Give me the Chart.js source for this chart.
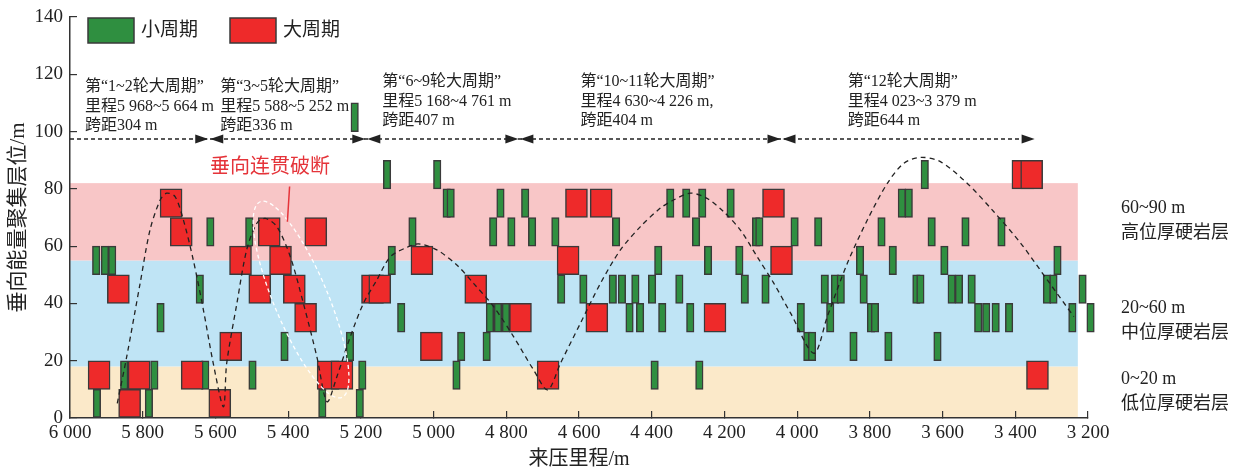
<!DOCTYPE html>
<html>
<head>
<meta charset="utf-8">
<script src="https://cdn.jsdelivr.net/npm/chart.js@4.4.1/dist/chart.umd.min.js"></script>
<style>
  html, body { margin: 0; padding: 0; background: #fff; }
  #wrap { width: 1255px; height: 470px; position: relative; }
</style>
</head>
<body>
<div id="wrap"><canvas id="cycleChart"></canvas></div>
<script>
// 小周期 blocks: mileage (m) and the bottom of the 10 m layer they occupy
const smallMileage = [
  5926, 5783, 5306, 5203,
  5851, 5768, 5628, 5498, 5196, 4937, 4392, 4269,
  5410, 5230, 4924, 4854, 3972, 3959, 3845, 3749, 3614,
  5751, 5089, 4845, 4823, 4801, 4461, 4432, 4371, 4294, 3990, 3909, 3797, 3786, 3502, 3480, 3454, 3417, 3243, 3193,
  5643, 4649, 4588, 4507, 4482, 4445, 4399, 4324, 4144, 4087, 3924, 3896, 3880, 3817, 3672, 3661, 3575, 3555, 3520, 3313, 3295, 3215,
  5928, 5904, 5884, 5115, 4382, 4245, 4159, 3827, 3737, 3595, 3284,
  5614, 5507, 5058, 4836, 4786, 4729, 4665, 4498, 4278, 4113, 4104, 4007, 3942, 3768, 3630, 3537, 3438,
  4964, 4953, 4816, 4748, 4349, 4305, 4261, 4183, 3712, 3693,
  5128, 4990, 3649,
  5217
];
const smallLayer = [
  0, 0, 0, 0,
  10, 10, 10, 10, 10, 10, 10, 10,
  20, 20, 20, 20, 20, 20, 20, 20, 20,
  30, 30, 30, 30, 30, 30, 30, 30, 30, 30, 30, 30, 30, 30, 30, 30, 30, 30, 30,
  40, 40, 40, 40, 40, 40, 40, 40, 40, 40, 40, 40, 40, 40, 40, 40, 40, 40, 40, 40, 40, 40,
  50, 50, 50, 50, 50, 50, 50, 50, 50, 50, 50,
  60, 60, 60, 60, 60, 60, 60, 60, 60, 60, 60, 60, 60, 60, 60, 60, 60,
  70, 70, 70, 70, 70, 70, 70, 70, 70, 70,
  80, 80, 80,
  100
];

// 大周期 blocks
const largeMileage = [
  5836, 5588,
  5920, 5810, 5664, 5290, 5252, 4685, 3339,
  5558, 5006,
  5352, 4761, 4551, 4226,
  5867, 5478, 5383, 5168, 5148, 4884,
  5531, 5421, 5032, 4630, 4043,
  5694, 5452, 5324,
  5722, 4607, 4539, 4065,
  3379, 3355
];
const largeLayer = [
  0, 0,
  10, 10, 10, 10, 10, 10, 10,
  20, 20,
  30, 30, 30, 30,
  40, 40, 40, 40, 40, 40,
  50, 50, 50, 50, 50,
  60, 60, 60,
  70, 70, 70, 70,
  80, 80
];
const blockHeight = 10;

// dashed envelope through the large cycles
const curveMileage = [5870, 5844, 5807, 5780, 5752, 5734, 5711, 5688, 5661, 5633, 5606, 5578,
  5569, 5541, 5514, 5486, 5463, 5431, 5394, 5358, 5321, 5293,
  5266, 5229, 5193, 5156, 5119, 5073, 5041, 4991, 4936, 4890, 4835, 4780, 4725, 4686,
  4651, 4596, 4541, 4486, 4431, 4376, 4340, 4294, 4248, 4202, 4156, 4110, 4064, 4018, 3954,
  3917, 3862, 3807, 3752, 3707, 3661, 3606, 3532, 3459, 3385, 3312, 3239];
const curveLevel = [5.1, 21.4, 47.1, 65.6, 76.1, 78.5, 77.3, 69.1, 55.2, 37.7, 19.1, 3.9,
  19.1, 40.0, 58.7, 68.0, 69.7, 66.8, 56.3, 40.0, 21.4, 5.7,
  14.4, 28.4, 40.0, 48.2, 56.3, 59.6, 60.8, 58.7, 53.4, 47.0, 38.9, 28.4, 16.8, 9.8,
  19.1, 33.1, 47.0, 58.7, 66.8, 73.3, 76.1, 78.5, 76.7, 72.0, 65.6, 56.3, 47.0, 36.6, 22.6,
  35.4, 54.0, 69.1, 81.9, 88.9, 91.0, 89.5, 81.9, 72.0, 61.0, 48.2, 35.4];

// rock layer bands
const bandLow = [0, 18, 55];
const bandHigh = [18, 55, 82];
const bandEndMileage = 3228;
const bandTitle = ['0~20 m', '20~60 m', '60~90 m'];
const bandName = ['低位厚硬岩层', '中位厚硬岩层', '高位厚硬岩层'];
const bandLabelLevel = [13.6, 38.4, 73.3];

// major cycle spans along the top
const cycleBounds = [6000, 5617, 5185, 4764, 4043, 3344];
const cycleArrowLevel = 97.4;
const cycleTitle = ['第“1~2轮大周期”', '第“3~5轮大周期”', '第“6~9轮大周期”', '第“10~11轮大周期”', '第“12轮大周期”'];
const cycleRange = ['里程5 968~5 664 m', '里程5 588~5 252 m', '里程5 168~4 761 m', '里程4 630~4 226 m,', '里程4 023~3 379 m'];
const cycleSpan = ['跨距304 m', '跨距336 m', '跨距407 m', '跨距404 m', '跨距644 m'];
const cycleTextMileage = [5959, 5587, 5141, 4596, 3861];
const cycleTextLevel = [115.6, 115.6, 117.3, 117.3, 117.3];

// continuous vertical breakage highlight
const breakEnds = [[5477, 75.5], [5252, 7.2]];
const breakLabel = '垂向连贯破断';
const breakLabelAt = [5450, 87.4];
const breakPointer = [[5396, 80.8], [5402, 68.5]];

const GREEN = '#2f8f40';
const RED = '#ee2a2a';
const EDGE = '#3a3a3a';
const SERIF = '"Liberation Serif", "Noto Sans CJK SC", serif';
const CJK = '"Liberation Serif", "Noto Sans CJK SC", sans-serif';

const fmt = v => String(v).replace(/\B(?=(\d{3})+(?!\d))/g, ' ');
const blocks = (mileage, layer) => mileage.map((m, i) => ({ x: m, y: [layer[i], layer[i] + blockHeight] }));

const bandPlugin = {
    id: 'bands',
    beforeDraw(chart) {
        const { ctx, scales: { x, y } } = chart;
        const colors = ['#fbe9c9', '#bfe4f5', '#f8c6c7'];
        ctx.save();
        bandLow.forEach((lo, i) => {
            const x0 = x.getPixelForValue(6000);
            const x1 = x.getPixelForValue(bandEndMileage);
            const y0 = y.getPixelForValue(bandHigh[i]);
            const y1 = y.getPixelForValue(lo);
            ctx.fillStyle = colors[i];
            ctx.fillRect(x0, y0, x1 - x0, y1 - y0);
        });
        ctx.restore();
    }
};

function arrowHead(ctx, px, py, dir) {
    ctx.beginPath();
    ctx.moveTo(px, py);
    ctx.lineTo(px - dir * 13, py - 4.5);
    ctx.lineTo(px - dir * 13, py + 4.5);
    ctx.closePath();
    ctx.fill();
}

const notesPlugin = {
    id: 'notes',
    afterDraw(chart) {
        const { ctx, chartArea, scales: { x, y } } = chart;
        ctx.save();

        // breakage ellipse
        const [a, b] = breakEnds.map(([m, v]) => [x.getPixelForValue(m), y.getPixelForValue(v)]);
        const cx = (a[0] + b[0]) / 2, cy = (a[1] + b[1]) / 2;
        const semi = Math.hypot(b[0] - a[0], b[1] - a[1]) / 2;
        ctx.strokeStyle = '#ffffff';
        ctx.lineWidth = 1.3;
        ctx.setLineDash([4, 3]);
        ctx.beginPath();
        ctx.ellipse(cx, cy, semi, 27, Math.atan2(b[1] - a[1], b[0] - a[0]), 0, Math.PI * 2);
        ctx.stroke();

        // cycle span arrows
        const ay = y.getPixelForValue(cycleArrowLevel);
        ctx.strokeStyle = '#222';
        ctx.fillStyle = '#222';
        ctx.lineWidth = 1.3;
        ctx.setLineDash([4, 3]);
        ctx.beginPath();
        ctx.moveTo(x.getPixelForValue(cycleBounds[0]), ay);
        ctx.lineTo(x.getPixelForValue(cycleBounds[cycleBounds.length - 1]) - 12, ay);
        ctx.stroke();
        ctx.setLineDash([]);
        for (let i = 0; i < cycleBounds.length - 1; i++) {
            const left = x.getPixelForValue(cycleBounds[i]);
            const right = x.getPixelForValue(cycleBounds[i + 1]);
            if (i > 0) arrowHead(ctx, left + 1, ay, -1);
            arrowHead(ctx, right - 1, ay, 1);
        }

        // cycle notes
        ctx.font = '16px ' + SERIF;
        ctx.textAlign = 'left';
        ctx.textBaseline = 'middle';
        ctx.fillStyle = '#222';
        cycleTitle.forEach((t, i) => {
            const tx = x.getPixelForValue(cycleTextMileage[i]);
            const ty = y.getPixelForValue(cycleTextLevel[i]);
            ctx.fillText(t, tx, ty);
            ctx.fillText(cycleRange[i], tx, ty + 19.5);
            ctx.fillText(cycleSpan[i], tx, ty + 39);
        });

        // breakage label and pointer
        ctx.fillStyle = '#e5343a';
        ctx.strokeStyle = '#e5343a';
        ctx.lineWidth = 1.5;
        ctx.font = '20px ' + CJK;
        ctx.textAlign = 'center';
        ctx.fillText(breakLabel, x.getPixelForValue(breakLabelAt[0]), y.getPixelForValue(breakLabelAt[1]));
        ctx.beginPath();
        ctx.moveTo(x.getPixelForValue(breakPointer[0][0]), y.getPixelForValue(breakPointer[0][1]));
        ctx.lineTo(x.getPixelForValue(breakPointer[1][0]), y.getPixelForValue(breakPointer[1][1]));
        ctx.stroke();

        // band names to the right of the plot
        ctx.fillStyle = '#222';
        ctx.textAlign = 'left';
        ctx.font = '18px ' + CJK;
        bandTitle.forEach((t, i) => {
            const ly = y.getPixelForValue(bandLabelLevel[i]);
            ctx.fillText(t, chartArea.right + 33, ly);
            ctx.fillText(bandName[i], chartArea.right + 33, ly + 25);
        });

        // legend
        const items = chart.data.datasets.filter(d => d.type === 'bar');
        let lx = chartArea.left + 18;
        ctx.font = '19px ' + CJK;
        ctx.lineWidth = 1.5;
        ctx.strokeStyle = EDGE;
        items.forEach(d => {
            ctx.fillStyle = d.backgroundColor;
            ctx.fillRect(lx, chartArea.top + 1, 46, 25);
            ctx.strokeRect(lx, chartArea.top + 1, 46, 25);
            ctx.fillStyle = '#222';
            ctx.fillText(d.label, lx + 53, chartArea.top + 14);
            lx += 142;
        });
        ctx.restore();
    }
};

new Chart(document.getElementById('cycleChart'), {
    type: 'bar',
    data: {
        datasets: [
            {
                type: 'bar',
                label: '小周期',
                data: blocks(smallMileage, smallLayer),
                backgroundColor: GREEN,
                borderColor: EDGE,
                borderWidth: 1.5,
                borderSkipped: false,
                barThickness: 7.5,
                grouped: false,
                clip: false,
                order: 2
            },
            {
                type: 'bar',
                label: '大周期',
                data: blocks(largeMileage, largeLayer),
                backgroundColor: RED,
                borderColor: EDGE,
                borderWidth: 1.5,
                borderSkipped: false,
                barThickness: 22,
                grouped: false,
                clip: false,
                order: 1
            },
            {
                type: 'line',
                label: '趋势',
                data: curveMileage.map((m, i) => ({ x: m, y: curveLevel[i] })),
                borderColor: '#222',
                borderWidth: 1.3,
                borderDash: [5, 4],
                pointRadius: 0,
                tension: 0.3,
                fill: false,
                clip: false,
                order: 0
            }
        ]
    },
    options: {
        responsive: true,
        maintainAspectRatio: false,
        animation: false,
        layout: { padding: { left: 0, right: 167, top: 17, bottom: 0 } },
        plugins: {
            legend: { display: false },
            tooltip: { enabled: false }
        },
        scales: {
            x: {
                type: 'linear',
                reverse: true,
                min: 3200,
                max: 6000,
                offset: false,
                grid: { drawOnChartArea: false, offset: false, tickLength: -7, color: '#333', lineWidth: 1.2 },
                border: { color: '#333', width: 1.5 },
                ticks: {
                    stepSize: 200,
                    padding: 11,
                    maxRotation: 0,
                    autoSkip: false,
                    color: '#222',
                    font: { family: SERIF, size: 19 },
                    callback: v => fmt(v)
                },
                title: {
                    display: true,
                    text: '来压里程/m',
                    color: '#222',
                    font: { family: CJK, size: 20, lineHeight: 1 },
                    padding: 0
                },
                afterFit: s => {
                    s.height = 52;
                    s.paddingLeft = 0;
                    s.paddingRight = 0;
                }
            },
            y: {
                min: 0,
                max: 140,
                grid: { drawOnChartArea: false, tickLength: -7, color: '#333', lineWidth: 1.2 },
                border: { color: '#333', width: 1.5 },
                ticks: {
                    stepSize: 20,
                    padding: 14,
                    color: '#222',
                    font: { family: SERIF, size: 19 }
                },
                title: {
                    display: true,
                    text: '垂向能量聚集层位/m',
                    color: '#222',
                    font: { family: CJK, size: 21, lineHeight: 1 },
                    padding: { top: 8, bottom: 0 }
                },
                afterFit: s => {
                    s.width = 70;
                    s.paddingTop = 0;
                    s.paddingBottom = 0;
                }
            }
        }
    },
    plugins: [bandPlugin, notesPlugin]
});
</script>
</body>
</html>
